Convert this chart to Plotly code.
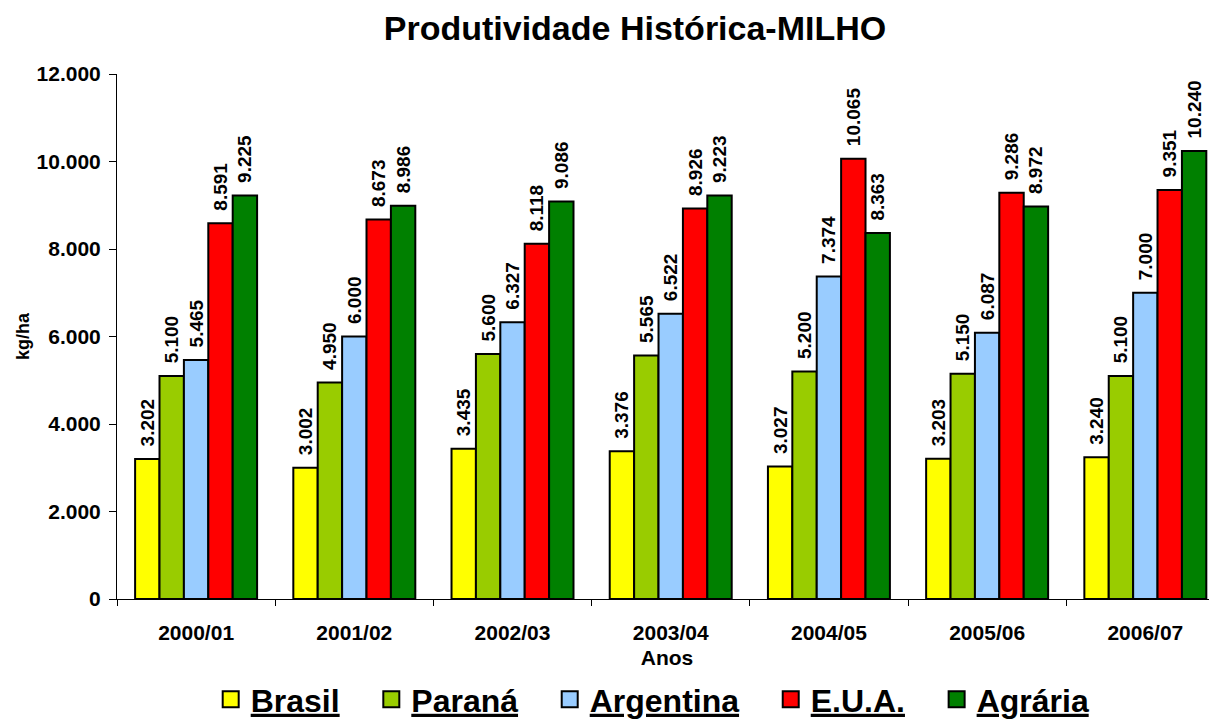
import plotly.graph_objects as go

safras = ["2000/01", "2001/02", "2002/03", "2003/04", "2004/05", "2005/06", "2006/07"]
series_names = ["Brasil", "Paraná", "Argentina", "E.U.A.", "Agrária"]
brasil = [3202, 3002, 3435, 3376, 3027, 3203, 3240]
parana = [5100, 4950, 5600, 5565, 5200, 5150, 5100]
argentina = [5465, 6000, 6327, 6522, 7374, 6087, 7000]
eua = [8591, 8673, 8118, 8926, 10065, 9286, 9351]
agraria = [9225, 8986, 9086, 9223, 8363, 8972, 10240]
colors = ["#FFFF00", "#99CC00", "#99CCFF", "#FF0000", "#008000"]
y_ticks = [0, 2000, 4000, 6000, 8000, 10000, 12000]

FONT = "Liberation Sans, Arial, sans-serif"
NB = "\u00a0"

fig = go.Figure()
for name, vals, col in zip(series_names, [brasil, parana, argentina, eua, agraria], colors):
    fig.add_trace(go.Bar(
        x=safras, y=vals, name=name, legendgroup=name, showlegend=False,
        marker=dict(color=col, line=dict(color="black", width=2)),
        texttemplate="\u2002%{y:,.0f}",
        textposition="outside", textangle=-90,
        textfont=dict(family=FONT, size=19, color="black", weight="bold"),
        constraintext="none", cliponaxis=False, hoverinfo="skip",
    ))

# legend entries (larger square swatches like the original)
for name, col in zip(series_names, colors):
    fig.add_trace(go.Scatter(
        x=[None], y=[None], mode="markers", name=f"<u>{name}</u>" + NB * 3,
        legendgroup=name, showlegend=True, hoverinfo="skip",
        marker=dict(symbol="square", size=16, color=col, line=dict(color="black", width=2)),
    ))

fig.update_layout(
    width=1209, height=719,
    separators=",.",
    paper_bgcolor="white", plot_bgcolor="white",
    font=dict(family=FONT, color="black", weight="bold"),
    margin=dict(l=109, r=0, t=66, b=128, autoexpand=False),
    barmode="group", bargap=0.229, bargroupgap=0,
    title=dict(text="Produtividade Histórica-MILHO", x=0.5186, xref="container", xanchor="center",
               y=0.972, yref="container", yanchor="middle",
               font=dict(family=FONT, size=34, color="black", weight="bold")),
    legend=dict(orientation="h", x=0.544, xref="container", xanchor="center",
                y=0.0, yref="container", yanchor="bottom", itemsizing="trace",
                font=dict(family=FONT, size=32, color="black", weight="bold"),
                bgcolor="rgba(0,0,0,0)"),
    xaxis=dict(
        range=[-0.5, 6.453], showline=True, linecolor="black", linewidth=1,
        ticks="outside", tickson="boundaries", ticklen=6, tickcolor="black",
        tickfont=dict(family=FONT, size=21, color="black", weight="bold"),
        ticklabelstandoff=15, showgrid=False, automargin=False,
        title=dict(text="Anos", font=dict(family=FONT, size=21, color="black", weight="bold"), standoff=7),
    ),
    yaxis=dict(
        range=[0, 12000], tickvals=y_ticks, tickformat=",.0f",
        showline=True, linecolor="black", linewidth=1,
        ticks="outside", ticklen=7, tickcolor="black",
        tickfont=dict(family=FONT, size=21, color="black", weight="bold"),
        ticklabelstandoff=4, showgrid=False, zeroline=False, automargin=False,
        title=dict(text="kg/ha", font=dict(family=FONT, size=18, color="black", weight="bold"), standoff=2),
    ),
)

fig.write_html("out.html")
